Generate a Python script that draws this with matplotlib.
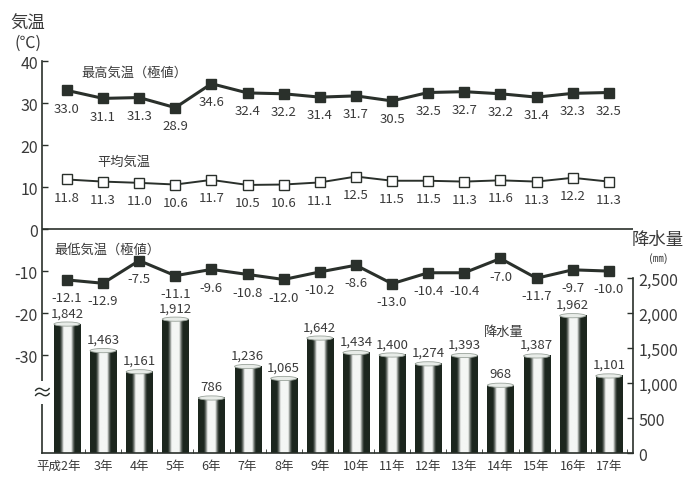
import matplotlib.pyplot as plt
import numpy as np
from matplotlib.colors import LinearSegmentedColormap
from matplotlib.patches import Ellipse

plt.rcParams['font.family'] = ['Noto Sans CJK JP', 'DejaVu Sans']

# data
years = ["平成2年", "3年", "4年", "5年", "6年", "7年", "8年", "9年",
         "10年", "11年", "12年", "13年", "14年", "15年", "16年", "17年"]
t_max = [33.0, 31.1, 31.3, 28.9, 34.6, 32.4, 32.2, 31.4,
         31.7, 30.5, 32.5, 32.7, 32.2, 31.4, 32.3, 32.5]
t_mean = [11.8, 11.3, 11.0, 10.6, 11.7, 10.5, 10.6, 11.1,
          12.5, 11.5, 11.5, 11.3, 11.6, 11.3, 12.2, 11.3]
t_min = [-12.1, -12.9, -7.5, -11.1, -9.6, -10.8, -12.0, -10.2,
         -8.6, -13.0, -10.4, -10.4, -7.0, -11.7, -9.7, -10.0]
rain = [1842, 1463, 1161, 1912, 786, 1236, 1065, 1642,
        1434, 1400, 1274, 1393, 968, 1387, 1962, 1101]

temp_ticks = [40, 30, 20, 10, 0, -10, -20, -30]
rain_ticks = [0, 500, 1000, 1500, 2000, 2500]

dark = '#2a302b'
txt = '#3a3a3a'

fig = plt.figure(figsize=(6.98, 4.81), dpi=100)
ax = fig.add_axes([0.0602, 0.0561, 0.8467, 0.815])
ax2 = ax.twinx()
ax.set_zorder(ax2.get_zorder() + 1)
ax.patch.set_visible(False)

x = np.arange(len(years))
xlim = (-0.69, 15.67)

# cylinder-like bars
cmap = LinearSegmentedColormap.from_list('cyl', ['#1c261e', '#f4f6f4'])
t = np.linspace(0, 1, 60)
profile = np.clip(1.9 - 3.2 * np.abs(2 * t - 1), 0, 1) ** 1.5
grad = profile[np.newaxis, :]
w = 0.72
for xi, r in zip(x, rain):
    ax2.imshow(grad, cmap=cmap, vmin=0, vmax=1, aspect='auto',
               extent=[xi - w / 2, xi + w / 2, 0, r], zorder=1, interpolation='bilinear')
    ax2.add_patch(Ellipse((xi, r), w, 60, facecolor='#e8ece8', edgecolor='#9aa39b',
                          lw=0.6, zorder=2))
    ax2.annotate(f"{r:,}", (xi, r), xytext=(0, 3.5), textcoords='offset points',
                 ha='center', va='bottom', fontsize=9.5, color=txt)
ax2.set_xlim(*xlim)
ax2.set_ylim(0, 5600)

# temperature lines
ax.plot(x, t_max, color=dark, lw=2.2, marker='s', ms=7.5, mfc=dark, mec=dark, zorder=5)
ax.plot(x, t_mean, color=dark, lw=1.4, marker='s', ms=7.5, mfc='white', mec=dark,
        mew=1.0, zorder=5)
ax.plot(x, t_min, color=dark, lw=2.2, marker='s', ms=7.5, mfc=dark, mec=dark, zorder=5)
for series in (t_max, t_mean, t_min):
    for xi, v in zip(x, series):
        ax.annotate(f"{v:.1f}", (xi, v), xytext=(0, -8), textcoords='offset points',
                    ha='center', va='top', fontsize=9.5, color=txt)

ax.axhline(0, color=dark, lw=1.2, zorder=3)
ax.set_xlim(*xlim)
ax.set_ylim(-53.3, 40)

# axes styling
for a in (ax, ax2):
    a.spines['top'].set_visible(False)
ax.spines['right'].set_visible(False)
ax2.spines['left'].set_visible(False)
ax.spines['left'].set_color(dark)
ax.spines['left'].set_linewidth(1.2)
ax.spines['bottom'].set_color(dark)
ax.spines['bottom'].set_linewidth(1.2)
ax2.spines['right'].set_color(dark)
ax2.spines['right'].set_linewidth(1.2)
ax2.spines['right'].set_bounds(0, 2500)
ax2.spines['bottom'].set_visible(False)

ax.set_yticks(temp_ticks)
ax.set_yticklabels([str(v) for v in temp_ticks])
ax.tick_params(axis='y', direction='in', length=4, width=1, color=dark,
               labelsize=11.5, labelcolor=txt, pad=3)
ax2.set_yticks(rain_ticks)
ax2.set_yticklabels([f"{v:,}" for v in rain_ticks])
ax2.tick_params(axis='y', direction='in', length=4, width=1, color=dark,
                labelsize=11.5, labelcolor=txt, pad=4)

ax.set_xticks(x + 0.5, minor=True)
ax.set_xticks([])
ax.tick_params(axis='x', which='minor', direction='in', length=3, color=dark)
ax2.set_xticks([])

# category labels
tr = ax.get_xaxis_transform()
for xi, lab in zip(x, years):
    if xi == 0:
        ax.text(xi + 0.38, -0.016, lab, transform=tr, ha='right', va='top',
                fontsize=9, color=txt)
    else:
        ax.text(xi, -0.016, lab, transform=tr, ha='center', va='top',
                fontsize=9, color=txt)

# axis break mark
ax.text(-0.69, -38.9, "≈", ha='center', va='center', fontsize=15, color=dark,
        bbox=dict(facecolor='white', edgecolor='none', pad=0.5), zorder=6)

# series names
ax.text(0.4, 37.4, "最高気温（極値）", fontsize=9.5, color=txt, va='center')
ax.text(0.85, 16.0, "平均気温", fontsize=9.5, color=txt, va='center')
ax.text(-0.35, -4.8, "最低気温（極値）", fontsize=9.5, color=txt, va='center')
ax2.text(12.1, 1730, "降水量", fontsize=9.5, color=txt, ha='center', va='center')

# axis titles
fig.text(28 / 698, 1 - 24 / 481, "気温", fontsize=12.5, color=txt, ha='center', va='center')
fig.text(28 / 698, 1 - 43 / 481, "(℃)", fontsize=11.5, color=txt, ha='center', va='center')
fig.text(658 / 698, 1 - 240 / 481, "降水量", fontsize=12.5, color=txt, ha='center', va='center')
fig.text(658 / 698, 1 - 259 / 481, "(㎜)", fontsize=8, color=txt, ha='center', va='center')

fig.savefig('out.png', dpi=100)
